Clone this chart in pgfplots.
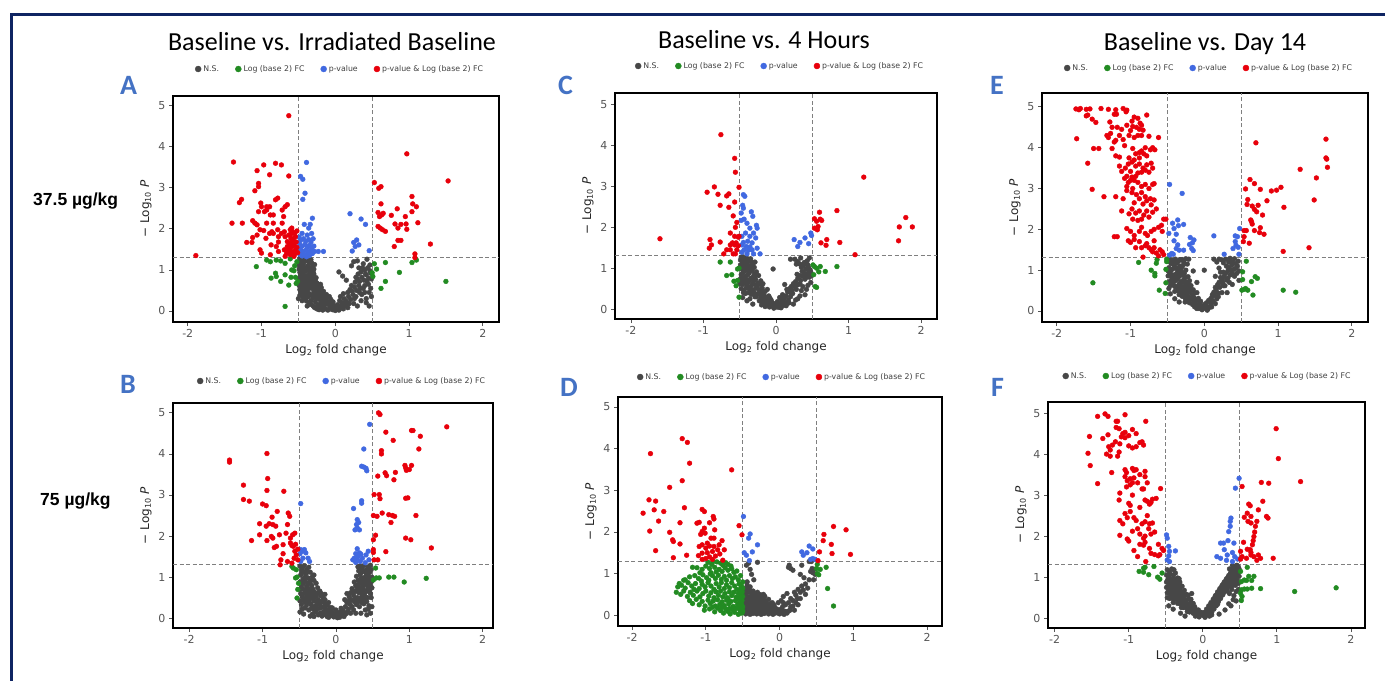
\documentclass[border=0pt]{standalone}
\usepackage{fontspec}
\usepackage{pgfplots}
\pgfplotsset{compat=1.18}
\setmainfont{DejaVu Sans}
\newfontfamily\calibri{Carlito}
\newfontfamily\arialf{Liberation Sans}
\definecolor{nsc}{HTML}{474747}
\definecolor{fcc}{HTML}{228B22}
\definecolor{pvc}{HTML}{4169E1}
\definecolor{bothc}{HTML}{E8000B}
\definecolor{framec}{HTML}{0E2462}
\definecolor{letterc}{HTML}{4472C4}
\definecolor{tickc}{HTML}{555555}
\definecolor{dashc}{HTML}{7F7F7F}
\pgfplotsset{
  volcano/.style={
    scale only axis,
    axis line style={line width=1.5pt, black},
    xtick={-2,-1,0,1,2}, xticklabels={-2,-1,0,1,2},
    ytick={0,1,2,3,4,5}, yticklabels={0,1,2,3,4,5},
    tick align=outside, tick pos=left,
    major tick length=4pt,
    tick style={color=tickc, line width=0.8pt},
    tick label style={font=\fontsize{11}{13}\selectfont, text=tickc},
    xlabel={Log\textsubscript{2} fold change},
    ylabel={− Log\textsubscript{10} \textit{P}},
    label style={font=\fontsize{12}{14}\selectfont, text=black!85},
    legend columns=4,
    legend cell align=left,
    legend style={draw=none, fill=none, font=\fontsize{7.8}{9}\selectfont, text=black!75, anchor=center, at={(0.5,1)},
      /tikz/every even column/.append style={column sep=14pt}},
    legend image code/.code={\fill (0.12cm,0cm) circle (3pt);},
  },
  nsp/.style={only marks, mark=*, mark size=2.4pt, color=nsc},
  fcp/.style={only marks, mark=*, mark size=2.4pt, color=fcc},
  pvp/.style={only marks, mark=*, mark size=2.4pt, color=pvc},
  bop/.style={only marks, mark=*, mark size=2.4pt, color=bothc},
}
\newcommand\cutlines{%
  \draw[dashc, line width=0.9pt, dash pattern=on 4pt off 2.5pt] ({axis cs:-0.5,0}|-{rel axis cs:0,0}) -- ({axis cs:-0.5,0}|-{rel axis cs:0,1});
  \draw[dashc, line width=0.9pt, dash pattern=on 4pt off 2.5pt] ({axis cs:0.5,0}|-{rel axis cs:0,0}) -- ({axis cs:0.5,0}|-{rel axis cs:0,1});
  \draw[dashc, line width=0.9pt, dash pattern=on 4pt off 2.5pt] ({rel axis cs:0,0}|-{axis cs:0,1.3}) -- ({rel axis cs:1,0}|-{axis cs:0,1.3});
}
\newcommand\legendtexts{%
  \addlegendentry{N.S.}\addlegendentry{Log (base 2) FC}\addlegendentry{p-value}\addlegendentry{p-value \& Log (base 2) FC}}
\begin{document}
\begin{tikzpicture}
\path[use as bounding box] (0pt,0pt) rectangle (1385pt,-681pt);
\fill[white] (0pt,0pt) rectangle (1385pt,-681pt);
\fill[framec] (10pt,-13pt) rectangle (1385pt,-16pt);
\fill[framec] (10pt,-13pt) rectangle (13pt,-681pt);
% titles
\node[font=\calibri\fontsize{26}{30}\selectfont, anchor=base] at (332pt,-50pt) {Baseline vs. Irradiated Baseline};
\node[font=\calibri\fontsize{26}{30}\selectfont, anchor=base] at (764pt,-48pt) {Baseline vs. 4 Hours};
\node[font=\calibri\fontsize{26}{30}\selectfont, anchor=base] at (1205pt,-50pt) {Baseline vs. Day 14};
% letters
\node[font=\calibri\bfseries\fontsize{28}{30}\selectfont, text=letterc, anchor=base west, inner sep=0pt] at (120pt,-94pt) {A};
\node[font=\calibri\bfseries\fontsize{28}{30}\selectfont, text=letterc, anchor=base west, inner sep=0pt] at (120pt,-393pt) {B};
\node[font=\calibri\bfseries\fontsize{28}{30}\selectfont, text=letterc, anchor=base west, inner sep=0pt] at (558pt,-94pt) {C};
\node[font=\calibri\bfseries\fontsize{28}{30}\selectfont, text=letterc, anchor=base west, inner sep=0pt] at (560pt,-396pt) {D};
\node[font=\calibri\bfseries\fontsize{28}{30}\selectfont, text=letterc, anchor=base west, inner sep=0pt] at (990pt,-94pt) {E};
\node[font=\calibri\bfseries\fontsize{28}{30}\selectfont, text=letterc, anchor=base west, inner sep=0pt] at (991pt,-396pt) {F};
% row labels
\node[font=\arialf\bfseries\fontsize{17.5}{20}\selectfont, anchor=base west, inner sep=0pt] at (33pt,-205pt) {37.5 µg/kg};
\node[font=\arialf\bfseries\fontsize{17.5}{20}\selectfont, anchor=base west, inner sep=0pt] at (40pt,-505pt) {75 µg/kg};

% ---------------- A ----------------
\begin{axis}[volcano, at={(173pt,-96pt)}, anchor=north west, width=326pt, height=226pt,
  xmin=-2.2, xmax=2.22, ymin=-0.27, ymax=5.24, legend style={xshift=4pt, yshift=27pt}]
\addplot[nsp, forget plot] coordinates {(-0.49,1.02)(-0.47,0.88)(-0.45,0.78)(-0.43,0.68)(-0.46,0.56)(-0.43,0.50)(-0.40,0.40)(-0.38,0.35)(-0.44,0.35)(-0.39,0.24)(-0.33,0.16)(-0.28,0.08)(-0.22,0.03)(-0.17,0.02)(-0.10,0.02)(-0.06,0.14)(-0.02,0.06)(0.06,0.08)(0.09,0.14)(0.17,0.08)(-0.34,0.88)(-0.31,0.78)(-0.30,0.58)(-0.27,0.47)(-0.25,0.30)(-0.22,0.40)(-0.18,0.25)(-0.14,0.16)(-0.12,0.40)(-0.20,0.65)(-0.24,0.55)(-0.37,1.22)(-0.32,1.17)(-0.29,1.02)(-0.38,1.00)(-0.42,1.05)(-0.45,1.28)(-0.49,0.80)(-0.47,0.47)(-0.42,0.46)(-0.36,0.55)(-0.33,0.66)(-0.39,0.82)(-0.41,0.71)(-0.35,0.70)(-0.29,0.70)(-0.26,0.60)(-0.08,0.35)(-0.03,0.22)(0.07,0.35)(0.11,0.42)(0.19,0.18)(0.22,0.62)(0.28,0.82)(0.31,0.90)(0.34,0.55)(0.40,0.62)(0.43,0.72)(0.46,0.45)(0.49,0.78)(0.41,0.90)(0.37,1.05)(0.47,1.12)(0.32,1.05)(0.22,1.10)(0.42,0.20)(0.35,0.25)(0.30,0.12)(0.40,0.45)(0.49,0.35)(0.26,0.30)};
\addplot[nsp] coordinates {(-0.48,1.28)(-0.45,1.24)(-0.42,1.21)(-0.39,1.27)(-0.36,1.19)(-0.33,1.25)(-0.47,1.17)(-0.49,1.11)(-0.46,1.07)(-0.43,1.14)(-0.40,1.04)(-0.37,1.10)(-0.34,1.01)(-0.31,1.08)(-0.28,1.13)(-0.44,0.99)(-0.48,0.94)(-0.44,0.89)(-0.41,0.96)(-0.38,0.86)(-0.35,0.93)(-0.32,0.83)(-0.29,0.90)(-0.47,0.81)(-0.26,0.81)(-0.40,0.79)(-0.49,0.72)(-0.46,0.66)(-0.43,0.75)(-0.40,0.68)(-0.37,0.74)(-0.34,0.64)(-0.31,0.71)(-0.28,0.62)(-0.25,0.68)(-0.22,0.59)(-0.44,0.60)(-0.36,0.78)(-0.48,0.52)(-0.45,0.45)(-0.41,0.56)(-0.38,0.48)(-0.35,0.42)(-0.32,0.55)(-0.29,0.46)(-0.26,0.52)(-0.23,0.44)(-0.20,0.50)(-0.17,0.41)(-0.30,0.39)(-0.42,0.30)(-0.36,0.35)(-0.33,0.25)(-0.30,0.32)(-0.27,0.22)(-0.24,0.36)(-0.21,0.28)(-0.18,0.33)(-0.15,0.24)(-0.12,0.30)(-0.09,0.21)(-0.27,0.38)(-0.20,0.19)(-0.30,0.12)(-0.24,0.15)(-0.20,0.08)(-0.16,0.13)(-0.13,0.05)(-0.10,0.16)(-0.07,0.09)(-0.04,0.03)(-0.01,0.12)(0.02,0.06)(0.05,0.02)(0.08,0.10)(0.11,0.05)(0.14,0.14)(-0.18,0.18)(0.00,0.01)(0.03,0.15)(0.12,0.18)(-0.11,0.19)(0.06,0.25)(0.09,0.20)(0.12,0.30)(0.15,0.24)(0.18,0.35)(0.21,0.28)(0.24,0.40)(0.17,0.45)(0.20,0.52)(0.23,0.48)(0.26,0.58)(0.29,0.50)(0.32,0.62)(0.27,0.70)(0.30,0.78)(0.33,0.72)(0.36,0.82)(0.39,0.75)(0.42,0.88)(0.45,0.80)(0.48,0.92)(0.35,0.95)(0.40,1.00)(0.44,1.05)(0.47,0.98)(0.25,1.20)(0.30,1.22)(0.38,1.15)(0.43,1.26)(0.36,0.40)(0.42,0.30)(0.46,0.12)(0.48,0.55)(0.45,0.65)(0.38,0.55)(0.10,0.85)(0.15,0.75)(0.05,0.95)(0.28,0.35)(0.33,0.45)(0.25,0.18)(-0.50,0.30)(-0.48,0.38)(-0.45,0.25)(-0.38,0.12)(-0.25,0.05)(-0.35,0.18)(-0.47,1.22)(-0.41,1.29)(-0.35,1.05)(-0.30,0.95)(-0.42,0.85)(-0.46,0.92)(-0.39,0.62)(-0.33,0.58)(-0.27,0.75)(-0.49,0.62)(-0.23,0.65)(-0.19,0.57)(-0.14,0.35)(-0.06,0.28)(-0.16,0.48)};
\addplot[fcp] coordinates {(-1.07,1.08)(-0.93,1.24)(-0.88,1.20)(-0.80,1.24)(-0.74,1.22)(-0.68,1.16)(-0.61,1.27)(-0.59,1.00)(-0.56,0.98)(-0.81,0.92)(-0.80,0.84)(-0.87,0.80)(-0.74,0.72)(-0.68,0.88)(-0.60,0.82)(-0.54,0.82)(-0.63,0.63)(-0.53,0.67)(-0.68,0.11)(0.50,0.93)(0.51,0.84)(0.53,1.15)(0.56,1.02)(0.68,1.18)(0.68,0.72)(0.62,0.55)(0.87,0.94)(1.04,1.18)(1.10,1.24)(1.50,0.72)(-0.52,1.20)(-0.55,1.10)(-0.51,0.72)};
\addplot[pvp] coordinates {(-0.47,3.28)(-0.44,3.21)(-0.39,3.62)(-0.41,2.87)(-0.44,2.72)(-0.31,2.26)(-0.34,2.11)(-0.42,2.11)(-0.36,2.02)(-0.32,1.89)(-0.38,1.85)(-0.45,1.89)(-0.49,1.80)(-0.47,1.72)(-0.43,1.76)(-0.40,1.70)(-0.36,1.74)(-0.33,1.68)(-0.30,1.76)(-0.48,1.62)(-0.45,1.58)(-0.41,1.62)(-0.38,1.55)(-0.35,1.60)(-0.32,1.52)(-0.29,1.58)(-0.47,1.50)(-0.44,1.45)(-0.40,1.48)(-0.37,1.42)(-0.34,1.46)(-0.31,1.40)(-0.48,1.38)(-0.45,1.34)(-0.42,1.37)(-0.39,1.32)(-0.35,1.35)(-0.28,1.45)(-0.16,1.45)(-0.23,1.45)(0.20,2.37)(0.35,2.24)(0.41,2.11)(0.25,1.67)(0.27,1.57)(0.29,1.73)(0.23,1.46)(0.46,1.47)(0.32,1.61)};
\addplot[bop] coordinates {(-0.63,4.76)(-1.38,3.63)(-1.06,3.42)(-0.97,3.56)(-0.81,3.60)(-0.73,3.56)(-0.63,3.29)(-1.04,3.11)(-1.04,3.03)(-1.09,2.93)(-0.89,3.32)(-1.27,2.72)(-1.30,2.64)(-1.01,2.63)(-1.00,2.54)(-0.93,2.54)(-0.93,2.46)(-0.96,2.42)(-0.81,2.71)(-0.78,2.75)(-0.89,2.54)(-0.68,2.54)(-0.65,2.59)(-0.72,2.46)(-0.88,2.34)(-0.84,2.34)(-1.04,2.42)(-0.70,2.30)(-1.40,2.14)(-1.26,2.14)(-1.12,2.20)(-1.09,2.14)(-1.06,2.10)(-0.93,2.14)(-0.84,2.14)(-0.72,2.14)(-1.20,1.67)(-1.13,1.67)(-1.12,1.79)(-1.06,1.85)(-1.02,1.98)(-0.97,1.96)(-0.94,1.77)(-0.89,1.89)(-0.86,1.93)(-0.84,1.89)(-0.78,1.98)(-0.77,1.81)(-0.73,1.89)(-0.69,1.93)(-0.68,1.81)(-0.63,1.85)(-0.61,1.98)(-0.59,2.02)(-0.58,1.93)(-0.55,1.89)(-0.54,1.81)(-0.60,1.77)(-0.65,1.69)(-0.62,1.63)(-0.59,1.69)(-0.56,1.61)(-0.61,1.53)(-0.65,1.57)(-0.69,1.49)(-0.64,1.45)(-0.59,1.45)(-0.54,1.49)(-0.55,1.39)(-0.61,1.37)(-0.68,1.33)(-1.02,1.49)(-1.00,1.41)(-0.88,1.37)(-0.80,1.57)(-0.77,1.45)(-1.89,1.35)(-0.77,1.68)(-0.87,1.61)(-0.57,1.75)(-0.52,1.55)(-0.53,1.68)(-0.58,1.58)(-0.63,1.52)(-0.56,1.33)(-0.51,1.42)(-0.66,1.40)(-0.60,1.88)(-0.52,1.95)(0.53,3.13)(0.59,2.99)(0.62,3.03)(0.97,3.83)(1.53,3.17)(0.62,2.61)(0.58,2.40)(0.63,2.34)(0.65,2.38)(0.60,2.30)(0.58,2.06)(0.61,2.02)(0.64,1.98)(0.76,2.33)(0.84,2.49)(0.81,2.12)(0.85,2.02)(0.89,2.11)(1.04,2.79)(1.05,2.61)(1.04,2.42)(1.10,2.54)(1.12,2.15)(0.95,2.30)(0.96,2.12)(0.97,1.99)(0.85,1.72)(0.89,1.72)(0.80,1.57)(1.29,1.63)(1.08,1.39)(1.08,1.30)(0.68,1.94)};
\legendtexts
\cutlines
\end{axis}

% ---------------- B ----------------
\begin{axis}[volcano, at={(173pt,-403pt)}, anchor=north west, width=320pt, height=225pt,
  xmin=-2.22, xmax=2.14, ymin=-0.24, ymax=5.24, legend style={xshift=9pt, yshift=22pt}]
\addplot[nsp, forget plot] coordinates {(-0.47,1.15)(-0.42,1.00)(-0.39,1.12)(-0.34,0.92)(-0.30,1.05)(-0.45,0.84)(-0.38,0.84)(-0.32,0.72)(-0.42,0.68)(-0.36,0.64)(-0.29,0.58)(-0.24,0.62)(-0.45,0.58)(-0.40,0.47)(-0.35,0.52)(-0.30,0.50)(-0.25,0.35)(-0.20,0.40)(-0.15,0.45)(-0.10,0.38)(-0.42,0.25)(-0.33,0.26)(-0.27,0.20)(-0.22,0.24)(-0.16,0.28)(-0.10,0.20)(-0.05,0.25)(-0.24,0.08)(-0.18,0.10)(-0.12,0.04)(-0.06,0.08)(0.03,0.10)(0.07,0.15)(0.10,0.08)(0.16,0.15)(0.20,0.12)(0.24,0.20)(0.18,0.42)(0.26,0.48)(0.30,0.40)(0.34,0.50)(0.38,0.45)(0.43,0.50)(0.23,0.64)(0.29,0.70)(0.34,0.64)(0.39,0.60)(0.44,0.74)(0.27,0.80)(0.32,0.84)(0.37,0.78)(0.42,0.84)(0.47,0.82)(0.34,0.96)(0.39,0.90)(0.44,1.00)(0.35,1.12)(0.42,1.18)(0.46,1.12)(0.30,1.25)(0.41,1.03)(0.49,0.90)(0.46,0.68)(0.38,0.35)(0.32,0.28)(0.44,0.22)(0.27,0.12)(0.49,0.28)(0.42,0.08)(-0.49,0.70)(-0.44,0.45)(-0.38,0.40)(-0.32,0.10)};
\addplot[nsp] coordinates {(-0.49,1.27)(-0.46,1.22)(-0.43,1.28)(-0.40,1.18)(-0.37,1.24)(-0.44,1.12)(-0.48,1.05)(-0.41,1.08)(-0.35,1.12)(-0.32,1.02)(-0.38,0.98)(-0.45,0.95)(-0.49,0.88)(-0.42,0.90)(-0.36,0.88)(-0.30,0.92)(-0.27,0.85)(-0.33,0.80)(-0.40,0.78)(-0.47,0.76)(-0.44,0.70)(-0.37,0.72)(-0.31,0.68)(-0.25,0.74)(-0.22,0.66)(-0.28,0.62)(-0.34,0.60)(-0.41,0.62)(-0.48,0.60)(-0.46,0.52)(-0.39,0.54)(-0.33,0.50)(-0.27,0.53)(-0.21,0.55)(-0.17,0.48)(-0.24,0.45)(-0.30,0.42)(-0.36,0.44)(-0.43,0.40)(-0.49,0.42)(-0.40,0.32)(-0.34,0.34)(-0.28,0.30)(-0.22,0.35)(-0.16,0.38)(-0.12,0.32)(-0.19,0.27)(-0.25,0.24)(-0.31,0.22)(-0.37,0.20)(-0.14,0.22)(-0.08,0.26)(-0.28,0.15)(-0.22,0.12)(-0.17,0.16)(-0.11,0.14)(-0.06,0.18)(-0.02,0.10)(-0.14,0.08)(-0.08,0.06)(-0.03,0.03)(0.01,0.07)(0.05,0.02)(0.04,0.14)(0.08,0.09)(0.11,0.04)(0.14,0.11)(-0.19,0.05)(0.00,0.20)(-0.05,0.12)(0.02,0.01)(-0.10,0.02)(0.10,0.18)(0.07,0.24)(0.13,0.28)(0.17,0.22)(0.19,0.34)(0.22,0.28)(0.15,0.38)(0.21,0.45)(0.25,0.40)(0.28,0.33)(0.18,0.52)(0.24,0.56)(0.29,0.50)(0.32,0.44)(0.35,0.38)(0.26,0.65)(0.31,0.62)(0.36,0.58)(0.40,0.52)(0.22,0.72)(0.28,0.78)(0.33,0.74)(0.38,0.70)(0.43,0.66)(0.47,0.60)(0.25,0.88)(0.30,0.92)(0.35,0.86)(0.40,0.82)(0.45,0.78)(0.49,0.74)(0.28,1.02)(0.33,1.06)(0.37,0.98)(0.42,0.94)(0.46,0.90)(0.49,1.00)(0.31,1.15)(0.36,1.20)(0.40,1.12)(0.44,1.08)(0.48,1.18)(0.38,1.28)(0.44,1.25)(0.33,1.27)(0.47,1.29)(0.42,0.40)(0.45,0.30)(0.40,0.20)(0.47,0.12)(0.34,0.12)(0.48,0.50)(0.20,0.62)(0.15,0.60)(0.12,0.45)(-0.46,0.22)(-0.44,0.10)(-0.49,0.15)(-0.41,0.48)(-0.47,0.33)(-0.35,0.05)(-0.30,0.04)(-0.26,0.39)(-0.20,0.60)(-0.15,0.58)};
\addplot[fcp] coordinates {(-0.60,1.26)(-0.58,1.22)(-0.54,1.18)(-0.55,0.98)(-0.53,1.00)(-0.53,0.49)(-0.51,0.85)(-0.52,0.70)(0.54,1.22)(0.51,0.93)(0.55,0.98)(0.59,0.98)(0.72,1.00)(0.79,1.00)(0.93,0.88)(1.23,0.97)};
\addplot[pvp] coordinates {(-0.48,2.79)(-0.48,1.67)(-0.46,1.63)(-0.43,1.67)(-0.49,1.57)(-0.41,1.59)(-0.45,1.46)(-0.38,1.46)(-0.36,1.38)(-0.48,1.38)(0.46,4.72)(0.38,4.12)(0.35,3.70)(0.38,3.68)(0.41,3.65)(0.42,3.59)(0.35,2.86)(0.35,2.80)(0.24,2.67)(0.29,2.40)(0.31,2.33)(0.28,2.28)(0.29,2.20)(0.26,2.15)(0.32,2.15)(0.29,1.69)(0.32,1.59)(0.27,1.57)(0.34,1.56)(0.25,1.46)(0.23,1.42)(0.29,1.42)(0.36,1.46)(0.41,1.54)(0.44,1.63)(0.45,1.42)(0.27,1.36)(0.33,1.38)(0.30,1.50)(0.40,1.35)};
\addplot[bop] coordinates {(-1.45,3.85)(-1.45,3.80)(-0.94,4.01)(-1.26,3.24)(-0.93,3.40)(-1.26,2.89)(-1.18,2.85)(-0.94,3.11)(-0.71,3.09)(-1.00,2.78)(-0.95,2.74)(-0.80,2.60)(-0.65,2.56)(-0.63,2.48)(-0.87,2.46)(-0.91,2.30)(-1.04,2.30)(-0.95,2.24)(-0.86,2.28)(-0.82,2.24)(-1.04,2.03)(-1.15,1.89)(-0.94,1.89)(-0.88,1.99)(-0.86,1.95)(-0.77,2.03)(-0.68,2.07)(-0.66,2.28)(-0.59,2.03)(-0.56,2.07)(-0.81,1.75)(-0.84,1.72)(-0.72,1.79)(-0.62,1.83)(-0.60,1.77)(-0.58,1.75)(-0.56,1.63)(-0.54,1.54)(-0.57,1.46)(-0.75,1.42)(-0.76,1.30)(-0.66,1.38)(-0.60,1.34)(-0.52,1.42)(-0.72,1.57)(-0.55,1.80)(-0.62,1.95)(-0.52,1.68)(0.58,5.00)(0.60,4.96)(1.51,4.66)(0.68,4.53)(1.05,4.57)(1.03,4.57)(1.15,4.43)(1.13,4.12)(0.78,4.33)(0.62,4.08)(0.62,4.00)(0.57,3.46)(0.67,3.54)(0.69,3.47)(0.81,3.55)(0.79,3.37)(0.94,3.72)(0.95,3.66)(0.96,3.60)(1.03,3.72)(1.00,3.62)(0.52,3.01)(0.59,3.01)(0.60,2.91)(0.95,2.92)(0.98,2.93)(0.51,2.50)(0.56,2.48)(0.63,2.56)(0.72,2.52)(0.75,2.33)(0.77,2.50)(0.80,2.48)(1.09,2.50)(0.51,1.91)(0.54,2.02)(0.95,1.95)(1.02,1.91)(1.30,1.71)(0.68,1.62)(0.51,1.67)(0.51,1.60)(0.52,1.42)(0.57,1.42)};
\legendtexts
\cutlines
\end{axis}

% ---------------- C ----------------
\begin{axis}[volcano, at={(615pt,-93pt)}, anchor=north west, width=322pt, height=226pt,
  xmin=-2.22, xmax=2.22, ymin=-0.245, ymax=5.29, legend style={xshift=4pt, yshift=27pt}]
\addplot[nsp, forget plot] coordinates {(-0.49,1.20)(-0.46,1.28)(-0.43,1.16)(-0.39,1.22)(-0.34,1.16)(-0.45,1.08)(-0.38,1.04)(-0.34,1.08)(-0.30,1.02)(-0.42,0.98)(-0.35,0.98)(-0.46,0.88)(-0.39,0.84)(-0.32,0.78)(-0.44,0.76)(-0.37,0.70)(-0.29,0.80)(-0.47,0.66)(-0.42,0.64)(-0.32,0.62)(-0.27,0.58)(-0.22,0.60)(-0.41,0.52)(-0.34,0.46)(-0.25,0.50)(-0.20,0.42)(-0.38,0.40)(-0.30,0.40)(-0.27,0.30)(-0.20,0.34)(-0.15,0.30)(-0.09,0.28)(-0.19,0.22)(-0.12,0.20)(-0.06,0.18)(-0.20,0.10)(-0.13,0.12)(-0.09,0.05)(0.00,0.10)(0.04,0.04)(0.08,0.14)(0.14,0.08)(0.18,0.15)(0.09,0.35)(0.15,0.48)(0.21,0.55)(0.24,0.62)(0.28,0.58)(0.33,0.62)(0.29,0.85)(0.33,0.82)(0.39,0.88)(0.42,0.78)(0.45,0.90)(0.49,0.82)(0.39,1.14)(0.35,1.02)(0.28,1.10)(0.44,1.08)(0.20,1.22)(0.34,1.25)(0.46,1.25)(0.48,0.65)(0.42,0.48)(0.37,0.55)(0.33,0.32)(0.27,0.22)(0.20,0.40)};
\addplot[nsp] coordinates {(-0.48,1.27)(-0.44,1.22)(-0.41,1.26)(-0.38,1.18)(-0.35,1.23)(-0.46,1.15)(-0.49,1.08)(-0.43,1.05)(-0.40,1.12)(-0.36,1.02)(-0.32,1.09)(-0.29,1.15)(-0.47,0.98)(-0.44,0.92)(-0.40,0.95)(-0.37,0.88)(-0.33,0.94)(-0.30,0.85)(-0.27,0.91)(-0.48,0.84)(-0.42,0.80)(-0.24,0.82)(-0.49,0.74)(-0.45,0.70)(-0.41,0.72)(-0.38,0.66)(-0.35,0.75)(-0.31,0.67)(-0.28,0.72)(-0.25,0.63)(-0.21,0.69)(-0.18,0.62)(-0.46,0.60)(-0.40,0.58)(-0.34,0.57)(-0.48,0.50)(-0.44,0.46)(-0.37,0.50)(-0.31,0.47)(-0.27,0.53)(-0.23,0.45)(-0.19,0.51)(-0.15,0.43)(-0.12,0.48)(-0.42,0.38)(-0.34,0.36)(-0.29,0.30)(-0.25,0.37)(-0.21,0.27)(-0.17,0.34)(-0.13,0.25)(-0.10,0.32)(-0.07,0.23)(-0.23,0.20)(-0.18,0.15)(-0.14,0.18)(-0.11,0.10)(-0.08,0.15)(-0.05,0.08)(-0.02,0.13)(0.01,0.05)(0.04,0.11)(0.07,0.03)(0.10,0.09)(0.13,0.15)(-0.03,0.02)(0.02,0.18)(-0.15,0.06)(0.08,0.20)(0.05,0.28)(0.11,0.25)(0.14,0.32)(0.17,0.22)(0.20,0.30)(0.23,0.38)(0.16,0.42)(0.19,0.50)(0.22,0.45)(0.25,0.55)(0.28,0.48)(0.31,0.60)(0.27,0.67)(0.30,0.75)(0.34,0.70)(0.37,0.80)(0.40,0.73)(0.43,0.85)(0.46,0.78)(0.48,0.90)(0.36,0.92)(0.41,0.98)(0.45,1.02)(0.47,0.96)(0.26,1.22)(0.30,1.16)(0.33,1.10)(0.38,1.07)(0.43,1.18)(0.35,0.45)(0.40,0.35)(0.44,0.58)(0.12,0.60)(-0.04,0.98)(-0.46,0.28)(-0.40,0.20)(-0.32,0.12)(-0.45,0.40)(-0.50,0.62)(-0.36,0.25)(0.24,0.12)(0.30,0.25)};
\addplot[fcp] coordinates {(-0.77,1.15)(-0.63,1.15)(-0.68,0.82)(-0.61,0.84)(-0.58,0.68)(-0.55,0.57)(-0.53,0.70)(-0.51,0.29)(-0.53,0.98)(-0.51,1.00)(0.51,1.08)(0.53,1.04)(0.56,1.00)(0.61,1.04)(0.59,0.91)(0.52,0.84)(0.68,0.92)(0.84,1.04)(0.54,0.55)(0.56,0.53)};
\addplot[pvp] coordinates {(-0.45,2.80)(-0.43,2.76)(-0.46,2.54)(-0.45,2.47)(-0.48,2.35)(-0.34,2.38)(-0.32,2.27)(-0.44,2.20)(-0.48,2.17)(-0.40,2.10)(-0.27,2.05)(-0.26,1.98)(-0.36,1.98)(-0.31,1.86)(-0.42,1.86)(-0.47,1.78)(-0.36,1.78)(-0.28,1.74)(-0.39,1.66)(-0.45,1.63)(-0.33,1.62)(-0.47,1.57)(-0.41,1.53)(-0.36,1.52)(-0.44,1.45)(-0.38,1.44)(-0.33,1.45)(-0.31,1.35)(-0.40,1.35)(-0.47,1.39)(-0.22,1.35)(-0.26,1.49)(0.25,1.70)(0.33,1.63)(0.30,1.53)(0.40,1.74)(0.45,1.60)(0.48,1.86)(0.49,1.80)};
\addplot[bop] coordinates {(-0.76,4.27)(-0.57,3.69)(-0.56,3.35)(-0.51,2.98)(-0.95,2.86)(-0.85,2.99)(-0.80,2.81)(-0.68,2.77)(-0.65,2.82)(-0.77,2.54)(-0.57,2.62)(-0.65,2.49)(-0.59,2.28)(-0.54,2.12)(-0.56,2.00)(-0.63,1.86)(-0.57,1.78)(-0.51,1.78)(-0.55,1.62)(-0.57,1.57)(-0.63,1.57)(-0.52,1.55)(-0.63,1.45)(-0.68,1.45)(-0.72,1.35)(-0.59,1.35)(-0.56,1.35)(-0.91,1.70)(-0.89,1.57)(-0.92,1.49)(-0.77,1.64)(-1.60,1.72)(-0.52,1.76)(-0.54,1.45)(-0.60,1.62)(1.21,3.23)(0.84,2.41)(0.60,2.37)(0.61,2.20)(0.63,2.17)(0.53,2.21)(0.56,2.15)(0.58,2.02)(0.57,1.94)(0.53,1.98)(0.62,1.62)(0.70,1.70)(0.69,1.56)(0.88,1.63)(1.09,1.33)(1.69,1.67)(1.70,2.01)(1.79,2.24)(1.88,2.01)};
\legendtexts
\cutlines
\end{axis}

% ---------------- D ----------------
\begin{axis}[volcano, at={(618pt,-397pt)}, anchor=north west, width=324pt, height=229pt,
  xmin=-2.19, xmax=2.2, ymin=-0.26, ymax=5.24, legend style={xshift=2pt, yshift=20pt}]
\addplot[nsp, forget plot] coordinates {(-0.47,0.58)(-0.43,0.62)(-0.38,0.55)(-0.33,0.52)(-0.27,0.50)(-0.24,0.38)(-0.20,0.35)(-0.16,0.25)(-0.12,0.28)(-0.08,0.25)(-0.05,0.12)(-0.02,0.05)(0.04,0.10)(0.10,0.05)(0.14,0.12)(-0.46,0.44)(-0.41,0.36)(-0.38,0.45)(-0.35,0.32)(-0.32,0.40)(-0.29,0.30)(-0.26,0.36)(-0.23,0.28)(-0.20,0.12)(-0.17,0.20)(-0.14,0.08)(-0.11,0.15)(-0.07,0.12)(-0.47,0.12)(-0.44,0.20)(-0.38,0.18)(-0.35,0.22)(-0.32,0.15)(-0.29,0.20)(-0.26,0.12)(-0.23,0.18)(-0.41,0.08)(-0.36,0.04)(-0.31,0.03)(-0.25,0.02)(0.18,0.22)(0.22,0.30)(0.05,0.30)(0.28,0.40)(-0.44,0.72)(-0.40,0.68)};
\addplot[nsp] coordinates {(-0.49,0.52)(-0.46,0.48)(-0.43,0.55)(-0.40,0.45)(-0.37,0.50)(-0.34,0.42)(-0.31,0.47)(-0.28,0.40)(-0.25,0.44)(-0.48,0.40)(-0.45,0.36)(-0.42,0.42)(-0.39,0.33)(-0.36,0.38)(-0.33,0.30)(-0.30,0.35)(-0.27,0.28)(-0.24,0.33)(-0.21,0.26)(-0.18,0.30)(-0.49,0.30)(-0.46,0.25)(-0.43,0.30)(-0.40,0.22)(-0.37,0.27)(-0.34,0.19)(-0.31,0.24)(-0.28,0.17)(-0.25,0.22)(-0.22,0.15)(-0.19,0.20)(-0.16,0.13)(-0.13,0.18)(-0.10,0.12)(-0.48,0.18)(-0.45,0.12)(-0.42,0.16)(-0.39,0.09)(-0.36,0.13)(-0.33,0.07)(-0.30,0.11)(-0.27,0.05)(-0.24,0.09)(-0.21,0.04)(-0.18,0.08)(-0.15,0.03)(-0.12,0.06)(-0.09,0.02)(-0.06,0.05)(-0.03,0.08)(0.00,0.03)(0.03,0.06)(0.06,0.02)(0.08,0.09)(-0.49,0.07)(-0.46,0.03)(-0.43,0.06)(-0.40,0.02)(-0.04,0.15)(-0.07,0.20)(0.01,0.14)(0.04,0.20)(-0.48,0.62)(-0.45,0.66)(-0.41,0.60)(-0.36,0.58)(-0.30,0.55)(-0.22,0.50)(-0.15,0.38)(-0.10,0.30)(-0.44,0.80)(-0.38,0.98)(-0.42,1.25)(-0.45,1.20)(-0.30,1.27)(-0.40,1.10)(-0.35,0.85)(-0.20,0.45)(0.08,0.25)(0.12,0.30)(0.15,0.40)(0.05,0.45)(0.10,0.52)(0.18,0.35)(0.20,0.55)(0.22,0.48)(0.25,0.62)(0.28,0.55)(0.30,0.70)(0.24,0.40)(0.32,0.60)(0.35,0.75)(0.38,0.65)(0.33,0.90)(0.28,0.98)(0.40,0.85)(0.42,1.05)(0.45,1.02)(0.47,1.10)(0.44,1.12)(0.40,1.29)(0.43,1.29)(0.12,1.15)(0.15,1.12)(0.18,1.08)(0.13,1.20)(0.30,1.20)(0.48,0.98)(0.46,0.85)(0.35,0.50)(0.15,0.20)(0.20,0.12)(0.12,0.10)(0.25,0.25)(-0.02,0.30)(0.02,0.35)};
\addplot[fcp] coordinates {(-0.97,1.27)(-0.92,1.22)(-0.85,1.28)(-0.80,1.25)(-0.77,1.20)(-0.73,1.26)(-0.70,1.22)(-0.66,1.18)(-0.90,1.29)(-1.18,1.15)(-1.12,1.14)(-1.05,1.10)(-1.00,1.18)(-0.95,1.12)(-0.88,1.15)(-0.82,1.10)(-0.78,1.05)(-0.74,1.14)(-0.70,1.08)(-0.65,1.12)(-0.62,1.03)(-0.58,1.06)(-1.08,1.02)(-0.93,1.02)(-0.86,1.04)(-1.22,0.92)(-1.15,0.95)(-1.10,0.88)(-1.04,0.97)(-0.99,0.90)(-0.96,0.84)(-0.91,0.95)(-0.87,0.88)(-0.83,0.96)(-0.79,0.86)(-0.75,0.93)(-0.72,0.84)(-0.68,0.95)(-0.64,0.88)(-0.60,0.92)(-0.56,0.85)(-0.53,0.95)(-1.28,0.85)(-1.06,0.82)(-0.94,0.99)(-1.38,0.68)(-1.33,0.72)(-1.28,0.65)(-1.24,0.78)(-1.19,0.70)(-1.14,0.76)(-1.09,0.64)(-1.05,0.74)(-1.01,0.68)(-0.97,0.78)(-0.93,0.70)(-0.89,0.62)(-0.86,0.76)(-0.82,0.68)(-0.79,0.78)(-0.75,0.64)(-0.72,0.73)(-0.68,0.66)(-0.65,0.78)(-0.61,0.70)(-0.58,0.62)(-0.55,0.75)(-0.52,0.67)(-0.50,0.80)(-1.16,0.62)(-1.40,0.55)(-1.34,0.50)(-1.30,0.58)(-1.25,0.45)(-1.21,0.55)(-1.17,0.48)(-1.12,0.58)(-1.08,0.44)(-1.04,0.52)(-1.00,0.58)(-0.96,0.46)(-0.93,0.54)(-0.89,0.42)(-0.86,0.56)(-0.83,0.48)(-0.80,0.58)(-0.77,0.44)(-0.74,0.52)(-0.71,0.42)(-0.68,0.56)(-0.65,0.47)(-0.62,0.55)(-0.59,0.43)(-0.56,0.52)(-0.53,0.45)(-0.51,0.58)(-0.54,0.60)(-1.22,0.35)(-1.18,0.28)(-1.13,0.38)(-1.09,0.25)(-1.05,0.33)(-1.01,0.22)(-0.97,0.36)(-0.94,0.28)(-0.90,0.34)(-0.87,0.22)(-0.84,0.37)(-0.81,0.26)(-0.78,0.32)(-0.75,0.23)(-0.72,0.36)(-0.69,0.27)(-0.66,0.33)(-0.63,0.21)(-0.60,0.35)(-0.57,0.26)(-0.54,0.31)(-0.51,0.23)(-0.52,0.38)(-0.58,0.39)(-0.70,0.39)(-1.02,0.12)(-0.95,0.15)(-0.88,0.08)(-0.84,0.17)(-0.80,0.11)(-0.76,0.05)(-0.73,0.15)(-0.70,0.09)(-0.67,0.03)(-0.64,0.13)(-0.61,0.07)(-0.58,0.16)(-0.56,0.02)(-0.53,0.10)(-0.51,0.05)(-0.55,0.19)(-0.62,0.18)(-0.78,0.19)(-0.91,0.19)(-0.68,0.16)(-0.50,0.10)(-0.50,0.20)(-0.51,0.35)(-0.50,0.45)(-0.51,0.55)(-0.50,0.65)(-0.52,0.72)(-0.53,0.15)(-0.54,0.05)(-0.52,0.28)(-1.36,0.76)(-1.30,0.84)(0.51,1.22)(0.50,1.12)(0.55,1.10)(0.63,1.15)(0.65,0.64)(0.73,0.22)(0.51,1.00)(0.53,0.97)};
\addplot[pvp] coordinates {(-0.49,2.37)(-0.40,1.95)(-0.42,1.85)(-0.30,1.69)(-0.37,1.52)(-0.48,1.50)(-0.45,1.44)(-0.41,1.31)(0.30,1.52)(0.32,1.44)(0.37,1.50)(0.40,1.66)(0.45,1.59)(0.42,1.34)(0.45,1.36)(0.48,1.34)};
\addplot[bop] coordinates {(-1.32,4.24)(-1.25,4.15)(-1.75,3.88)(-1.22,3.65)(-0.65,3.49)(-1.32,3.23)(-1.49,3.07)(-1.77,2.77)(-1.68,2.74)(-1.85,2.45)(-1.70,2.53)(-1.57,2.49)(-1.29,2.58)(-1.64,2.26)(-1.35,2.22)(-1.76,2.02)(-1.49,1.99)(-1.45,1.81)(-1.44,1.77)(-1.35,1.71)(-1.68,1.55)(-1.26,1.44)(-1.44,1.38)(-0.55,2.15)(-0.51,1.93)(-1.05,2.54)(-1.02,2.49)(-1.09,2.23)(-1.12,2.21)(-0.90,2.37)(-0.89,2.31)(-0.95,2.22)(-1.02,2.09)(-1.05,2.01)(-1.01,1.97)(-1.07,1.94)(-0.88,2.05)(-0.89,1.85)(-0.93,1.85)(-0.98,1.73)(-1.05,1.69)(-1.09,1.65)(-1.00,1.61)(-0.95,1.66)(-0.89,1.65)(-0.82,1.69)(-0.78,1.79)(-0.84,1.57)(-0.91,1.53)(-0.98,1.50)(-1.05,1.49)(-1.10,1.43)(-0.95,1.40)(-0.87,1.42)(-0.81,1.47)(-0.75,1.57)(-0.77,1.32)(-1.00,1.36)(-0.91,1.34)(-1.05,1.34)(0.54,1.52)(0.59,1.79)(0.60,1.94)(0.73,2.13)(0.70,1.70)(0.71,1.48)(0.90,2.05)(0.96,1.46)(0.52,1.31)};
\legendtexts
\cutlines
\end{axis}

% ---------------- E ----------------
\begin{axis}[volcano, at={(1042pt,-93pt)}, anchor=north west, width=326pt, height=229pt,
  xmin=-2.2, xmax=2.22, ymin=-0.27, ymax=5.34, legend style={xshift=4pt, yshift=25pt}]
\addplot[nsp, forget plot] coordinates {(-0.49,1.22)(-0.45,1.22)(-0.41,1.20)(-0.33,1.26)(-0.28,1.21)(-0.21,1.27)(-0.23,1.15)(-0.49,0.98)(-0.45,1.00)(-0.38,1.06)(-0.34,1.04)(-0.30,1.08)(-0.25,1.00)(-0.49,0.86)(-0.44,0.84)(-0.40,0.82)(-0.32,0.90)(-0.27,0.92)(-0.22,0.84)(-0.47,0.72)(-0.42,0.70)(-0.38,0.76)(-0.30,0.70)(-0.26,0.72)(-0.20,0.74)(-0.18,0.62)(-0.46,0.62)(-0.40,0.60)(-0.36,0.58)(-0.32,0.60)(-0.28,0.58)(-0.24,0.56)(-0.40,0.48)(-0.34,0.52)(-0.30,0.46)(-0.26,0.44)(-0.22,0.48)(-0.15,0.52)(-0.10,0.45)(-0.34,0.40)(-0.28,0.38)(-0.24,0.32)(-0.20,0.30)(-0.16,0.34)(-0.26,0.22)(-0.22,0.24)(-0.14,0.24)(-0.05,0.24)(-0.13,0.10)(-0.10,0.06)(-0.05,0.10)(0.03,0.12)(0.05,0.05)(0.10,0.10)(0.08,0.28)(0.11,0.40)(0.15,0.58)(0.20,0.70)(0.22,0.82)(0.26,0.95)(0.30,1.10)(0.33,1.20)(0.29,1.27)(0.24,1.25)(0.17,1.20)(0.20,1.05)(0.25,0.70)(0.28,0.62)(0.32,0.80)(0.34,0.70)(0.38,0.92)(0.41,0.85)(0.36,1.00)(0.43,1.05)(0.47,0.98)(0.19,0.35)(0.24,0.45)(0.15,0.18)};
\addplot[nsp] coordinates {(-0.47,1.28)(-0.43,1.24)(-0.39,1.27)(-0.35,1.22)(-0.30,1.26)(-0.25,1.28)(-0.45,1.16)(-0.41,1.12)(-0.37,1.18)(-0.33,1.10)(-0.28,1.14)(-0.48,1.06)(-0.44,1.02)(-0.40,1.05)(-0.36,0.98)(-0.32,1.01)(-0.29,0.94)(-0.46,0.92)(-0.42,0.88)(-0.38,0.91)(-0.34,0.85)(-0.30,0.88)(-0.26,0.82)(-0.44,0.78)(-0.40,0.74)(-0.36,0.80)(-0.32,0.72)(-0.28,0.76)(-0.24,0.70)(-0.21,0.66)(-0.42,0.64)(-0.38,0.60)(-0.34,0.66)(-0.30,0.58)(-0.26,0.62)(-0.22,0.55)(-0.18,0.52)(-0.36,0.50)(-0.32,0.46)(-0.28,0.50)(-0.24,0.43)(-0.20,0.46)(-0.16,0.40)(-0.13,0.44)(-0.30,0.36)(-0.26,0.32)(-0.22,0.36)(-0.18,0.29)(-0.14,0.33)(-0.11,0.27)(-0.08,0.31)(-0.20,0.20)(-0.16,0.16)(-0.12,0.21)(-0.09,0.14)(-0.06,0.19)(-0.03,0.11)(0.00,0.16)(-0.07,0.06)(-0.03,0.03)(0.01,0.07)(0.04,0.02)(0.07,0.09)(0.03,0.20)(0.06,0.26)(0.09,0.18)(0.12,0.24)(0.10,0.33)(0.14,0.38)(0.17,0.30)(0.13,0.46)(0.16,0.52)(0.19,0.44)(0.21,0.58)(0.18,0.64)(0.23,0.70)(0.26,0.62)(0.24,0.78)(0.27,0.85)(0.30,0.76)(0.29,0.92)(0.32,0.98)(0.35,0.88)(0.33,1.06)(0.37,1.12)(0.40,1.02)(0.38,1.20)(0.42,1.16)(0.45,1.10)(0.13,1.27)(0.20,1.27)(0.35,1.29)(0.41,1.28)(0.46,1.22)(0.26,1.18)(0.22,0.95)(0.15,0.85)(0.44,0.92)(0.47,0.75)(0.38,0.65)(-0.48,0.55)(-0.46,0.42)(-0.40,0.30)(-0.34,0.22)(-0.10,0.70)(0.00,1.00)(-0.15,0.98)(0.31,0.45)};
\addplot[fcp] coordinates {(-1.51,0.69)(-0.89,1.19)(-0.72,1.00)(-0.67,0.92)(-0.67,0.86)(-0.65,1.17)(-0.64,1.26)(-0.61,0.51)(-0.53,0.43)(-0.52,1.02)(-0.51,1.21)(-0.51,1.27)(-0.52,0.69)(0.57,1.22)(0.52,0.96)(0.52,0.77)(0.54,0.53)(0.56,0.55)(0.59,0.51)(0.69,0.84)(0.72,0.80)(0.64,0.72)(0.66,0.39)(1.07,0.51)(1.24,0.46)(0.51,0.51)};
\addplot[pvp] coordinates {(-0.47,3.10)(-0.30,2.88)(-0.36,2.23)(-0.35,2.09)(-0.43,2.15)(-0.41,2.02)(-0.28,2.12)(-0.48,1.90)(-0.38,1.88)(-0.19,1.80)(-0.14,1.74)(-0.16,1.67)(-0.20,1.63)(-0.41,1.72)(-0.36,1.62)(-0.38,1.53)(-0.34,1.49)(-0.44,1.41)(-0.47,1.37)(-0.42,1.39)(-0.28,1.49)(-0.17,1.53)(-0.15,1.48)(0.13,1.84)(0.27,1.39)(0.39,1.53)(0.42,1.70)(0.45,1.82)(0.42,1.84)(0.48,2.02)(0.46,1.56)(0.47,1.39)(0.43,1.61)};
\addplot[bop] coordinates {(-1.74,4.95)(-1.70,4.93)(-1.68,4.96)(-1.60,4.94)(-1.55,4.95)(-1.40,4.96)(-1.30,4.94)(-1.20,4.93)(-1.10,4.96)(-1.05,4.92)(-0.78,4.80)(-1.60,4.78)(-1.58,4.80)(-1.52,4.70)(-1.47,4.62)(-1.22,4.82)(-1.19,4.82)(-0.95,4.75)(-0.90,4.72)(-0.87,4.60)(-0.98,4.65)(-1.06,4.88)(-1.73,4.22)(-1.28,4.63)(-1.25,4.50)(-1.18,4.50)(-1.12,4.45)(-1.05,4.55)(-1.00,4.42)(-0.97,4.52)(-0.92,4.50)(-0.88,4.45)(-0.85,4.55)(-0.83,4.43)(-1.32,4.30)(-1.30,4.25)(-1.27,4.35)(-1.20,4.18)(-1.15,4.30)(-1.10,4.20)(-1.02,4.30)(-0.95,4.25)(-0.90,4.30)(-0.85,4.30)(-0.75,4.28)(-0.62,4.25)(-1.22,4.14)(-1.50,3.98)(-1.43,3.98)(-1.25,3.98)(-1.20,3.80)(-1.15,3.77)(-1.08,4.05)(-1.02,3.75)(-0.97,3.98)(-0.93,3.85)(-0.88,3.75)(-0.85,3.92)(-0.80,4.00)(-0.78,3.80)(-0.73,3.95)(-0.70,4.00)(-0.67,3.95)(-0.95,3.70)(-0.88,3.88)(-0.82,3.85)(-1.58,3.62)(-1.15,3.55)(-1.07,3.50)(-1.03,3.60)(-0.98,3.65)(-0.93,3.55)(-0.88,3.60)(-0.83,3.50)(-0.78,3.58)(-0.72,3.62)(-0.70,3.50)(-1.12,3.42)(-1.00,3.42)(-0.90,3.38)(-0.85,3.40)(-0.80,3.45)(-0.75,3.40)(-1.08,3.25)(-1.05,3.30)(-1.00,3.20)(-0.98,3.28)(-0.95,3.20)(-0.93,3.30)(-1.03,3.15)(-0.90,3.15)(-0.85,3.05)(-0.80,3.10)(-0.70,3.10)(-0.68,3.12)(-1.05,3.05)(-0.97,3.00)(-0.75,3.00)(-1.52,2.98)(-1.36,2.80)(-1.20,2.80)(-1.10,2.75)(-1.05,2.95)(-0.98,2.90)(-0.92,2.85)(-0.88,2.75)(-0.85,2.90)(-0.80,2.80)(-0.78,2.70)(-0.73,2.75)(-0.68,2.72)(-0.95,2.65)(-0.83,2.62)(-0.72,2.60)(-1.12,2.45)(-1.02,2.38)(-0.98,2.50)(-0.93,2.40)(-0.88,2.45)(-0.85,2.25)(-0.82,2.35)(-0.78,2.45)(-0.75,2.30)(-0.70,2.42)(-0.65,2.50)(-0.90,2.22)(-0.97,2.25)(-1.22,1.82)(-1.18,1.82)(-1.05,2.02)(-1.00,1.95)(-0.95,1.85)(-0.88,1.95)(-0.85,2.05)(-0.80,1.90)(-0.77,1.85)(-0.72,1.95)(-0.68,2.00)(-0.62,2.05)(-0.58,2.10)(-0.55,2.25)(-0.52,2.25)(-0.57,1.95)(-1.03,1.72)(-1.00,1.68)(-0.95,1.75)(-0.88,1.70)(-0.85,1.55)(-0.80,1.60)(-0.75,1.55)(-0.72,1.50)(-0.70,1.45)(-0.68,1.55)(-0.65,1.42)(-0.60,1.50)(-0.57,1.45)(-0.55,1.38)(-0.62,1.35)(-0.83,1.32)(-0.78,1.65)(-0.68,1.72)(-0.93,1.55)(0.70,4.12)(1.65,4.21)(1.65,3.75)(1.66,3.72)(1.67,3.52)(1.30,3.47)(1.52,3.26)(1.49,2.72)(1.42,1.55)(1.07,1.46)(1.08,2.54)(1.04,3.03)(0.98,2.96)(0.91,2.94)(0.85,2.70)(0.76,2.98)(0.68,3.12)(0.62,3.22)(0.56,2.99)(0.59,2.73)(0.58,2.61)(0.65,2.57)(0.73,2.59)(0.68,2.49)(0.71,2.43)(0.79,2.35)(0.63,2.23)(0.64,2.19)(0.65,2.13)(0.54,1.97)(0.57,1.97)(0.68,1.97)(0.76,2.04)(0.81,1.88)(0.61,1.66)(0.53,1.70)(0.54,1.82)(0.75,1.92)};
\legendtexts
\cutlines
\end{axis}

% ---------------- F ----------------
\begin{axis}[volcano, at={(1048pt,-402pt)}, anchor=north west, width=317pt, height=226pt,
  xmin=-2.09, xmax=2.19, ymin=-0.24, ymax=5.27, legend style={xshift=1pt, yshift=26pt}]
\addplot[nsp, forget plot] coordinates {(-0.49,1.05)(-0.44,1.08)(-0.39,1.18)(-0.47,0.95)(-0.41,0.95)(-0.36,0.92)(-0.32,0.96)(-0.46,0.85)(-0.38,0.84)(-0.33,0.82)(-0.49,0.75)(-0.42,0.76)(-0.36,0.74)(-0.31,0.72)(-0.46,0.68)(-0.40,0.66)(-0.33,0.64)(-0.27,0.62)(-0.44,0.58)(-0.37,0.56)(-0.31,0.54)(-0.25,0.55)(-0.20,0.56)(-0.48,0.50)(-0.41,0.48)(-0.34,0.46)(-0.28,0.45)(-0.22,0.44)(-0.16,0.46)(-0.40,0.38)(-0.31,0.36)(-0.25,0.36)(-0.19,0.34)(-0.13,0.36)(-0.29,0.26)(-0.23,0.26)(-0.17,0.24)(-0.11,0.28)(-0.21,0.16)(-0.15,0.18)(-0.10,0.12)(-0.06,0.20)(-0.07,0.08)(-0.02,0.14)(0.04,0.08)(0.07,0.14)(0.12,0.08)(0.10,0.24)(0.14,0.30)(0.17,0.38)(0.20,0.34)(0.16,0.50)(0.22,0.46)(0.19,0.58)(0.25,0.55)(0.22,0.66)(0.28,0.62)(0.25,0.75)(0.31,0.72)(0.28,0.84)(0.35,0.78)(0.31,0.92)(0.38,0.86)(0.34,1.00)(0.41,0.95)(0.37,1.08)(0.44,1.04)(0.40,1.16)(0.47,1.10)(0.43,1.22)(0.46,1.29)(0.49,1.20)(0.36,1.20)(0.33,0.66)(0.39,0.70)(0.45,0.65)(0.44,0.80)(0.48,0.85)(0.41,0.45)(0.35,0.35)};
\addplot[nsp] coordinates {(-0.48,1.18)(-0.45,1.12)(-0.42,1.20)(-0.46,1.02)(-0.40,1.05)(-0.37,1.10)(-0.44,0.94)(-0.38,0.96)(-0.34,0.98)(-0.49,0.88)(-0.41,0.86)(-0.35,0.84)(-0.31,0.88)(-0.46,0.78)(-0.39,0.76)(-0.33,0.74)(-0.28,0.78)(-0.43,0.68)(-0.36,0.66)(-0.30,0.64)(-0.25,0.68)(-0.48,0.62)(-0.40,0.56)(-0.34,0.54)(-0.28,0.56)(-0.22,0.58)(-0.45,0.48)(-0.37,0.46)(-0.31,0.44)(-0.25,0.46)(-0.19,0.48)(-0.34,0.36)(-0.28,0.34)(-0.22,0.36)(-0.16,0.38)(-0.26,0.26)(-0.20,0.24)(-0.14,0.28)(-0.10,0.22)(-0.18,0.15)(-0.13,0.12)(-0.08,0.16)(-0.04,0.10)(-0.10,0.05)(-0.05,0.03)(0.00,0.07)(0.03,0.02)(0.02,0.14)(0.06,0.10)(0.09,0.05)(0.05,0.22)(0.09,0.19)(0.12,0.14)(0.08,0.30)(0.12,0.27)(0.15,0.22)(0.11,0.38)(0.15,0.35)(0.18,0.30)(0.14,0.46)(0.18,0.44)(0.21,0.40)(0.17,0.55)(0.21,0.52)(0.24,0.48)(0.20,0.64)(0.24,0.62)(0.27,0.57)(0.23,0.72)(0.27,0.70)(0.30,0.66)(0.26,0.80)(0.30,0.78)(0.33,0.74)(0.29,0.88)(0.33,0.86)(0.36,0.82)(0.39,0.78)(0.32,0.96)(0.36,0.94)(0.40,0.90)(0.43,0.86)(0.35,1.04)(0.39,1.02)(0.43,0.98)(0.46,0.94)(0.38,1.12)(0.42,1.10)(0.46,1.06)(0.49,1.02)(0.41,1.20)(0.45,1.18)(0.48,1.14)(0.44,1.27)(0.48,1.25)(0.40,1.28)(0.36,0.60)(0.42,0.55)(0.45,0.42)(0.48,0.70)(0.38,0.30)(-0.40,0.22)(-0.46,0.30)(-0.30,0.12)(-0.24,0.05)(0.22,0.10)(0.30,0.20)(-0.15,0.60)};
\addplot[fcp] coordinates {(-0.86,1.14)(-0.80,1.22)(-0.78,1.24)(-0.80,1.12)(-0.73,1.06)(-0.66,1.26)(-0.61,1.00)(-0.58,0.95)(-0.55,1.10)(0.51,1.14)(0.52,0.89)(0.56,0.93)(0.59,0.92)(0.62,1.02)(0.66,0.92)(0.69,1.02)(0.60,1.24)(0.52,0.69)(0.56,0.71)(0.60,0.71)(0.66,0.73)(0.78,0.72)(0.53,0.53)(0.52,0.43)(0.51,0.61)(1.24,0.65)(1.80,0.74)};
\addplot[pvp] coordinates {(-0.49,2.03)(-0.48,1.95)(-0.46,1.75)(-0.45,1.63)(-0.37,1.64)(-0.46,1.52)(-0.45,1.38)(-0.48,1.42)(0.49,3.41)(0.44,3.17)(0.38,2.44)(0.37,2.36)(0.37,2.24)(0.35,2.11)(0.34,1.89)(0.24,1.83)(0.28,1.83)(0.19,1.50)(0.24,1.46)(0.29,1.67)(0.33,1.54)(0.40,1.60)(0.42,1.83)(0.40,1.38)(0.32,1.41)(0.43,1.50)(0.47,1.44)};
\addplot[bop] coordinates {(-1.42,4.92)(-1.32,4.98)(-1.28,4.92)(-1.05,4.96)(-1.17,4.80)(-1.15,4.80)(-0.77,4.80)(-1.53,4.43)(-1.35,4.38)(-1.28,4.47)(-1.17,4.65)(-1.13,4.62)(-1.08,4.50)(-1.05,4.53)(-1.00,4.45)(-0.95,4.60)(-0.90,4.50)(-1.10,4.42)(-1.55,4.02)(-1.27,4.18)(-1.25,4.10)(-1.22,4.22)(-1.18,4.30)(-1.12,4.25)(-1.05,4.40)(-1.00,4.20)(-0.95,4.15)(-0.90,4.18)(-0.85,4.28)(-0.82,4.30)(-0.80,4.22)(-1.30,4.00)(-1.25,3.95)(-1.15,3.95)(-1.13,4.05)(-1.52,3.72)(-1.05,3.62)(-1.03,3.55)(-0.95,3.65)(-0.93,3.60)(-0.90,3.62)(-0.78,3.58)(-0.85,3.50)(-1.23,3.55)(-1.42,3.28)(-1.05,3.45)(-1.02,3.35)(-0.98,3.40)(-0.95,3.30)(-0.93,3.42)(-0.88,3.30)(-0.82,3.15)(-0.78,3.45)(-0.75,3.30)(-0.80,3.15)(-1.03,3.20)(-0.98,3.25)(-0.57,3.16)(-1.12,3.05)(-1.13,2.88)(-0.95,3.00)(-0.78,2.88)(-0.75,2.85)(-0.70,2.82)(-0.68,2.90)(-0.63,2.92)(-0.72,2.78)(-1.00,2.80)(-0.98,2.75)(-0.85,2.70)(-1.12,2.38)(-1.08,2.30)(-1.02,2.45)(-0.98,2.60)(-0.93,2.45)(-0.90,2.38)(-0.82,2.30)(-0.78,2.35)(-0.72,2.30)(-0.68,2.32)(-0.75,2.50)(-1.05,2.55)(-1.12,2.02)(-1.02,1.93)(-1.00,1.88)(-0.95,2.12)(-0.85,2.05)(-0.80,1.95)(-0.78,2.00)(-0.73,2.18)(-0.70,2.05)(-0.65,2.10)(-0.88,2.18)(-0.93,1.65)(-0.88,1.50)(-0.85,1.80)(-0.80,1.78)(-0.78,1.85)(-0.72,1.70)(-0.70,1.58)(-0.65,1.55)(-0.60,1.52)(-0.58,1.55)(-0.55,1.70)(-0.53,1.65)(-0.77,1.38)(-0.60,1.80)(0.99,4.62)(1.02,3.89)(0.89,3.29)(0.79,3.31)(1.32,3.33)(0.53,3.21)(0.62,2.78)(0.64,2.74)(0.75,2.64)(0.81,2.85)(0.60,2.56)(0.65,2.48)(0.56,2.46)(0.61,2.36)(0.65,2.32)(0.73,2.36)(0.86,2.48)(0.88,2.44)(0.71,2.24)(0.70,2.10)(0.69,1.99)(0.68,1.89)(0.67,1.79)(0.55,1.85)(0.60,1.68)(0.64,1.67)(0.51,1.63)(0.53,1.50)(0.59,1.46)(0.65,1.54)(0.69,1.50)(0.75,1.54)(0.78,1.46)(0.73,1.41)(0.51,1.44)(0.95,1.46)(0.65,1.60)};
\legendtexts
\cutlines
\end{axis}
\end{tikzpicture}
\end{document}
